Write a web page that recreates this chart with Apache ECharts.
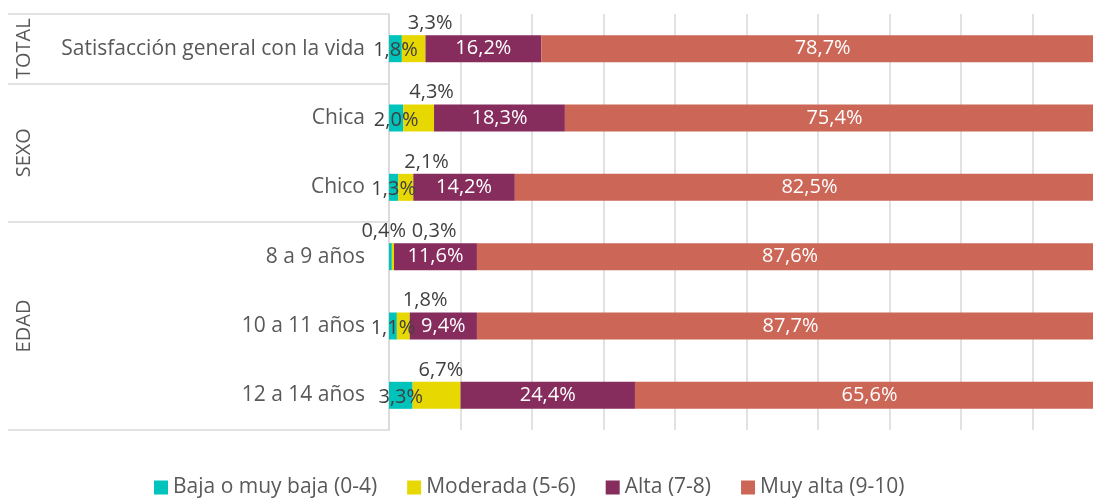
<!DOCTYPE html>
<html>
<head>
<meta charset="utf-8">
<script src="https://cdn.jsdelivr.net/npm/echarts@6/dist/echarts.min.js"></script>
<style>
  html, body { margin: 0; padding: 0; background: #fff; }
  #chart { width: 1093px; height: 500px; }
</style>
</head>
<body>
<div id="chart"></div>
<script>
var categories = ["Satisfacción general con la vida", "Chica", "Chico", "8 a 9 años", "10 a 11 años", "12 a 14 años"];
var seriesNames = ["Baja o muy baja (0-4)", "Moderada (5-6)", "Alta (7-8)", "Muy alta (9-10)"];
var bajaValues = [1.8, 2.0, 1.3, 0.4, 1.1, 3.3];
var moderadaValues = [3.3, 4.3, 2.1, 0.3, 1.8, 6.7];
var altaValues = [16.2, 18.3, 14.2, 11.6, 9.4, 24.4];
var muyAltaValues = [78.7, 75.4, 82.5, 87.6, 87.7, 65.6];
var groupNames = ["TOTAL", "SEXO", "EDAD"];
var groupBounds = [0, 1, 3, 6];

var colors = ["#00c4bc", "#e6d800", "#862d5e", "#cc6757"];
var fontFamily = "'Open Sans', 'Noto Sans', sans-serif";

var chartDom = document.getElementById("chart");
var chart = echarts.init(chartDom);

function pct(params) {
  return params.value.toFixed(1).replace(".", ",") + "%";
}

// tiny teal values get their label moved above the bar, next one shifts right
var bajaData = bajaValues.map(function (v) {
  if (v < 1) {
    return { value: v, label: { position: [17, -2], align: "right", verticalAlign: "bottom", offset: [0, 0] } };
  }
  return v;
});
var moderadaData = moderadaValues.map(function (v, i) {
  var dx = bajaValues[i] < 1 ? 20 : 6;
  return { value: v, label: { position: [dx, -2] } };
});

var labelBase = { fontFamily: fontFamily, fontSize: 20, formatter: pct };

var option = {
  animation: false,
  // plot is wider than the window: the 100% end is cut off on the right
  grid: { left: 389, width: 715, top: 14, bottom: 70, outerBoundsMode: "none" },
  legend: {
    left: 149,
    top: 472,
    icon: "rect",
    itemWidth: 14,
    itemHeight: 14,
    itemGap: 30,
    textStyle: { color: "#595959", fontSize: 21, fontFamily: fontFamily },
    data: seriesNames
  },
  xAxis: {
    type: "value",
    min: 0,
    max: 100,
    interval: 10,
    axisLine: { show: false },
    axisTick: { show: false },
    axisLabel: { show: false },
    splitLine: { lineStyle: { color: "#d9d9d9", width: 1.5 } }
  },
  yAxis: [
    {
      type: "category",
      inverse: true,
      data: categories,
      axisLine: { show: true, lineStyle: { color: "#d9d9d9", width: 1.5 } },
      axisTick: {
        show: true,
        length: 381,
        interval: function (index) {
          return groupBounds.indexOf(index) >= 0;
        },
        lineStyle: { color: "#d9d9d9", width: 1.5 }
      },
      axisLabel: {
        interval: 0,
        margin: 24,
        color: "#595959",
        fontSize: 21,
        fontFamily: fontFamily
      }
    },
    {
      type: "value",
      inverse: true,
      position: "left",
      min: 0,
      max: 6,
      interval: 0.5,
      axisLine: { show: false },
      axisTick: { show: false },
      splitLine: { show: false },
      axisLabel: {
        rotate: 90,
        margin: 355,
        color: "#595959",
        fontSize: 20,
        fontFamily: fontFamily,
        formatter: function (v) {
          for (var i = 0; i < groupNames.length; i++) {
            if ((groupBounds[i] + groupBounds[i + 1]) / 2 === v) return groupNames[i];
          }
          return "";
        }
      }
    }
  ],
  series: [
    {
      name: seriesNames[0],
      type: "bar",
      stack: "total",
      barWidth: 27,
      itemStyle: { color: colors[0] },
      label: Object.assign({ show: true, position: "inside", color: "#404040", offset: [0, 2] }, labelBase),
      data: bajaData
    },
    {
      name: seriesNames[1],
      type: "bar",
      stack: "total",
      barWidth: 27,
      itemStyle: { color: colors[1] },
      label: Object.assign({ show: true, align: "left", verticalAlign: "bottom", color: "#404040" }, labelBase),
      data: moderadaData
    },
    {
      name: seriesNames[2],
      type: "bar",
      stack: "total",
      barWidth: 27,
      itemStyle: { color: colors[2] },
      label: Object.assign({ show: true, position: "inside", color: "#ffffff" }, labelBase),
      data: altaValues
    },
    {
      name: seriesNames[3],
      type: "bar",
      stack: "total",
      barWidth: 27,
      itemStyle: { color: colors[3] },
      label: Object.assign({ show: true, position: "inside", color: "#ffffff" }, labelBase),
      data: muyAltaValues
    }
  ]
};

chart.setOption(option);
</script>
</body>
</html>
